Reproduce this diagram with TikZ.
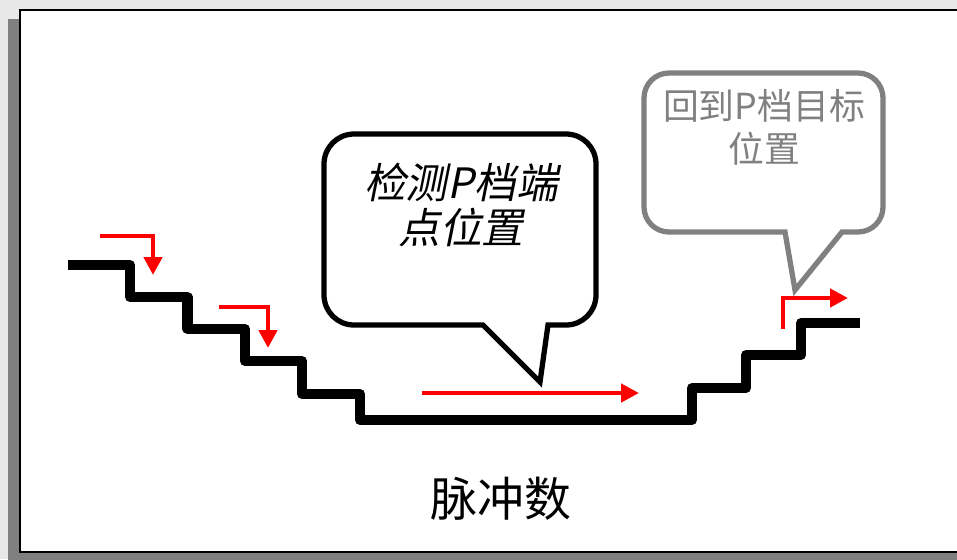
\documentclass[tikz,border=0pt]{standalone}
\usepackage{fontspec}
\setmainfont{Liberation Sans}
\newfontfamily\cjk{Noto Sans CJK SC}
\newfontfamily\cjkit[FakeSlant=0.2]{Noto Sans CJK SC}
\usetikzlibrary{arrows.meta}

\begin{document}
\begin{tikzpicture}[x=0.02cm, y=-0.02cm,
    stair/.style={line width=5.7pt, line join=round},
    move/.style={red, line width=2.8pt, -{Triangle[length=0.36cm,width=0.36cm]}},
    bubble/.style={line width=3pt, fill=white}]
    \clip (0,0) rectangle (957,559);

    % card with its shadow
    \fill[black!9] (0,0) rectangle (957,559);
    \fill[black!50] (8,19) rectangle (965,565);
    \draw[line width=1.2pt, fill=white] (20,10) rectangle (965,552);

    % pulse staircase
    \draw[stair] (68,265) -| (130,297) -| (187.5,329) -| (245,361) -| (302,394)
        -| (360,420) -| (692,388) -| (746,355) -| (801,323) -- (860,323);

    % moves
    \draw[move] (100,236) -| (153,275);
    \draw[move] (219,307) -| (268,348);
    \draw[move] (422,393) -- (639,393);
    \draw[move] (783,329) |- (848,298);

    % callouts
    \draw[bubble] (540,382) -- (548,325) [rounded corners=0.6cm] -- (596,325) -- (596,134)
        -- (324,134) -- (324,325) [sharp corners] -- (483,325) -- cycle;
    \draw[bubble, draw=black!50] (795,290) -- (842,232) [rounded corners=0.5cm] -- (883,232)
        -- (883,73) -- (644,73) -- (644,232) [sharp corners] -- (785,232) -- cycle;

    \node[font={\cjkit\fontsize{23.8}{26}\selectfont}, align=center] (detect) at (461,205) {检测P档端\\点位置};
    \node[font={\cjk\fontsize{20.4}{24.4}\selectfont}, text=black!50, align=center] (target) at (764,127) {回到P档目标\\位置};
    \node[font={\cjk\fontsize{26.7}{30}\selectfont}] (pulse) at (501,499) {脉冲数};
\end{tikzpicture}
\end{document}
